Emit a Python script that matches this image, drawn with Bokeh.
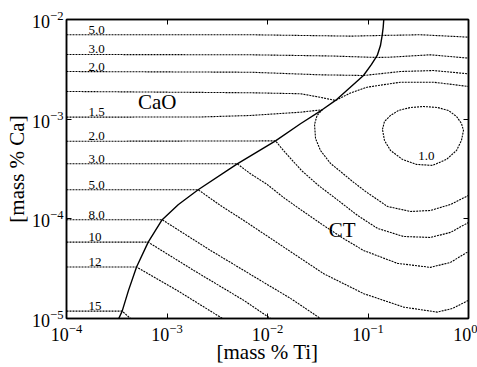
import numpy as np
from bokeh.plotting import figure
from bokeh.models import Range1d, LogAxis, ColumnDataSource, FixedTicker, CustomJSTickFormatter
from bokeh.core.properties import value
from bokeh.embed import file_html
from bokeh.resources import INLINE

# ---- data (log10 of mass %) ----
# CaO / CaTiO3 (CT) phase boundary
bnd_ti = [-3.480, -3.446, -3.383, -3.303, -3.187, -3.048, -2.886, -2.690, -2.301, -1.920,
          -1.672, -1.456, -1.323, -1.184, -1.045, -0.965, -0.908, -0.876, -0.859, -0.849, -0.843]
bnd_ca = [-5.0, -4.926, -4.718, -4.484, -4.234, -4.009, -3.856, -3.708, -3.448, -3.218,
          -3.046, -2.906, -2.812, -2.687, -2.562, -2.451, -2.361, -2.261, -2.160, -2.080, -2.0]

# iso-oxygen contours
c50a_ti = [-4.0, -2.169, -1.174, -0.859, -0.478, 0.0]
c50a_ca = [-2.153, -2.153, -2.167, -2.160, -2.153, -2.177]

c30a_ti = [-4.0, -2.169, -1.373, -0.905, -0.776, -0.378, 0.0]
c30a_ca = [-2.351, -2.354, -2.366, -2.381, -2.378, -2.354, -2.388]

c20a_ti = [-4.0, -2.169, -1.473, -1.045, -0.677, -0.348, 0.0]
c20a_ca = [-2.522, -2.529, -2.555, -2.562, -2.522, -2.512, -2.545]

c15a_ti = [-4.0, -2.169, -1.672, -1.493, -1.323, -1.174, -1.008, -0.677, -0.348, 0.0]
c15a_ca = [-2.722, -2.735, -2.745, -2.777, -2.812, -2.737, -2.679, -2.629, -2.629, -2.672]

c15b_ti = [-4.0, -2.667, -2.169, -1.672, -1.456, -1.507, -1.532, -1.522, -1.473, -1.373,
           -1.274, -1.154, -1.025, -0.806, -0.577, -0.378, -0.179, 0.0]
c15b_ca = [-2.980, -2.978, -2.963, -2.930, -2.906, -2.963, -3.053, -3.194, -3.314, -3.444,
           -3.525, -3.625, -3.725, -3.876, -3.926, -3.916, -3.856, -3.765]

c20b_ti = [-4.0, -1.920, -1.841, -1.662, -1.493, -1.323, -1.104, -0.905, -0.647, -0.378, -0.179, 0.0]
c20b_ca = [-3.222, -3.218, -3.314, -3.515, -3.665, -3.795, -3.966, -4.096, -4.177, -4.187, -4.136, -4.036]

c30b_ti = [-4.0, -2.301, -2.169, -2.003, -1.841, -1.701, -1.443, -1.244, -1.045, -0.706, -0.378, -0.179, 0.0]
c30b_ca = [-3.448, -3.448, -3.548, -3.655, -3.785, -3.886, -4.066, -4.197, -4.317, -4.447, -4.487, -4.437, -4.327]

c50b_ti = [-4.0, -2.690, -2.468, -2.236, -1.838, -1.440, -1.042, -0.644, -0.311, -0.159, 0.0]
c50b_ca = [-3.708, -3.708, -3.866, -4.016, -4.284, -4.551, -4.751, -4.886, -4.936, -4.899, -4.818]

c80_ti = [-4.0, -3.048, -2.567, -2.070, -1.771, -1.473]
c80_ca = [-4.009, -4.009, -4.317, -4.618, -4.798, -5.0]

c100_ti = [-4.0, -3.187, -2.733, -2.236, -1.970]
c100_ca = [-4.234, -4.234, -4.518, -4.818, -5.0]

c120_ti = [-4.0, -3.303, -2.899, -2.448]
c120_ca = [-4.484, -4.484, -4.718, -5.0]

c150_ti = [-4.0, -3.446, -3.363]
c150_ca = [-4.926, -4.926, -5.0]

c10_ti = [-0.856, -0.836, -0.776, -0.697, -0.577, -0.448, -0.308, -0.199, -0.119, -0.070,
          -0.050, -0.070, -0.119, -0.219, -0.358, -0.517, -0.657, -0.776, -0.836, -0.856]
c10_ca = [-3.103, -3.023, -2.963, -2.913, -2.883, -2.873, -2.883, -2.913, -2.973, -3.043,
          -3.113, -3.214, -3.314, -3.404, -3.464, -3.454, -3.404, -3.314, -3.214, -3.103]

# contour labels on the left side (text, and the contour each belongs to)
label_texts = ["5.0", "3.0", "2.0", "1.5", "2.0", "3.0", "5.0", "8.0", "10", "12", "15"]
label_levels = [c50a_ca[0], c30a_ca[0], c20a_ca[0], c15b_ca[0], c20b_ca[0], c30b_ca[0],
                c50b_ca[0], c80_ca[0], c100_ca[0], c120_ca[0], c150_ca[0]]

x_ticks = [1e-4, 1e-3, 1e-2, 1e-1, 1.0]
y_ticks = [1e-5, 1e-4, 1e-3, 1e-2]

SERIF = "Liberation Serif"

p = figure(width=477, height=367, x_axis_type="log", y_axis_type="log",
           x_range=Range1d(1e-4, 1.0), y_range=Range1d(1e-5, 1e-2),
           output_backend="svg", toolbar_location=None,
           min_border_left=66, min_border_right=9, min_border_top=19, min_border_bottom=49)
p.grid.visible = False
p.outline_line_color = "black"
p.outline_line_width = 1.5
p.background_fill_color = "white"
p.border_fill_color = "white"


def style_axis(ax):
    ax.major_tick_in = 5
    ax.major_tick_out = 0
    ax.minor_tick_line_color = None
    ax.axis_line_color = "black"
    ax.axis_line_width = 1.5
    ax.major_tick_line_color = "black"
    ax.major_tick_line_width = 1
    ax.major_label_text_font = SERIF
    ax.major_label_text_color = "black"
    ax.major_label_text_font_size = "18px"
    ax.axis_label_text_font = SERIF
    ax.axis_label_text_font_size = "21px"
    ax.axis_label_text_font_style = "normal"
    ax.axis_label_text_color = "black"


p.xaxis.ticker = FixedTicker(ticks=x_ticks)
p.yaxis.ticker = FixedTicker(ticks=y_ticks)
style_axis(p.xaxis[0])
style_axis(p.yaxis[0])
p.xaxis.major_label_standoff = 5
p.yaxis.major_label_standoff = 3
p.xaxis.axis_label = "[mass % Ti]"
p.yaxis.axis_label = "[mass % Ca]"
p.xaxis.axis_label_standoff = -4
p.yaxis.axis_label_standoff = 0

blank = CustomJSTickFormatter(code="return ''")
top = LogAxis(ticker=FixedTicker(ticks=x_ticks), formatter=blank)
style_axis(top)
top.major_label_standoff = 0
top.major_label_text_font_size = "2px"
p.add_layout(top, "above")
right = LogAxis(ticker=FixedTicker(ticks=y_ticks), formatter=blank)
style_axis(right)
right.major_label_standoff = 0
right.major_label_text_font_size = "2px"
p.add_layout(right, "right")


def pw(a):
    return list(10.0 ** np.array(a))


dashed = [(c50a_ti, c50a_ca), (c30a_ti, c30a_ca), (c20a_ti, c20a_ca), (c15a_ti, c15a_ca),
          (c15b_ti, c15b_ca), (c20b_ti, c20b_ca), (c30b_ti, c30b_ca), (c50b_ti, c50b_ca),
          (c80_ti, c80_ca), (c100_ti, c100_ca), (c120_ti, c120_ca), (c150_ti, c150_ca),
          (c10_ti, c10_ca)]
p.multi_line(xs=[pw(a) for a, b in dashed], ys=[pw(b) for a, b in dashed],
             line_color="black", line_width=1.1, line_dash="2 1")

p.line(pw(bnd_ti), pw(bnd_ca), line_color="black", line_width=1.4)

src = ColumnDataSource(dict(x=[10 ** -3.78] * len(label_texts), y=pw(label_levels), t=label_texts))
p.text(x="x", y="y", text="t", source=src, text_font=value(SERIF), text_font_size="13px",
       text_color="black", text_baseline="bottom", text_align="left", y_offset=-1)

p.text(x=[10 ** -0.418], y=[10 ** -3.374], text=["1.0"], text_font=value(SERIF),
       text_font_size="13px", text_color="black", text_align="center", text_baseline="middle")
p.text(x=[10 ** -3.098], y=[10 ** -2.829], text=["CaO"], text_font=value(SERIF),
       text_font_size="21px", text_color="black", text_align="center", text_baseline="middle")
p.text(x=[10 ** -1.257], y=[10 ** -4.116], text=["CT"], text_font=value(SERIF),
       text_font_size="21px", text_color="black", text_align="center", text_baseline="middle")

open("out.html", "w").write(file_html(p, INLINE))
